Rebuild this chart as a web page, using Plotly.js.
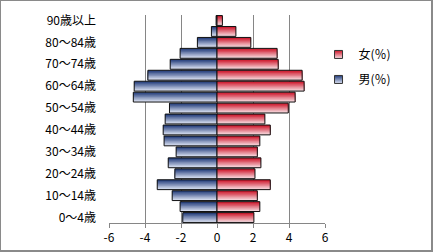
<!DOCTYPE html>
<html>
<head>
<meta charset="utf-8">
<script src="https://cdn.plot.ly/plotly-3.0.1.min.js"></script>
<style>
html,body{margin:0;padding:0;background:#fff;}
#wrap{position:relative;width:433px;height:252px;}
#chart{width:433px;height:252px;}
#frame{position:absolute;left:0;top:0;width:433px;height:252px;box-sizing:border-box;
  border-top:1px solid #8a8a8a;border-left:1px solid #8a8a8a;border-right:2px solid #8a8a8a;border-bottom:2px solid #8a8a8a;pointer-events:none;}
</style>
</head>
<body>
<div id="wrap"><div id="chart"></div><div id="frame"></div></div>
<script>
// Age groups (bottom to top)
const ageGroups = ["0～4歳","5～9歳","10～14歳","15～19歳","20～24歳","25～29歳","30～34歳","35～39歳","40～44歳","45～49歳","50～54歳","55～59歳","60～64歳","65～69歳","70～74歳","75～79歳","80～84歳","85～89歳","90歳以上"];
// Male share (%)
const malePct = [1.90,2.05,2.49,3.32,2.34,2.71,2.27,2.94,2.99,2.88,2.64,4.65,4.60,3.84,2.60,2.05,1.09,0.31,0.05];
// Female share (%)
const femalePct = [2.05,2.38,2.24,2.96,2.11,2.44,2.24,2.38,2.96,2.66,3.96,4.34,4.84,4.73,3.40,3.34,1.88,1.05,0.30];
// Y tick labels (every other group)
const yTickLabels = ["0～4歳","10～14歳","20～24歳","30～34歳","40～44歳","50～54歳","60～64歳","70～74歳","80～84歳","90歳以上"];
// X ticks
const xTickVals = [-6,-4,-2,0,2,4,6];
const xTickText = ["-6","-4","-2","0","2","4","6"];
const seriesNames = ["女(％)","男(％)"];

const maleX = malePct.map(v => -v);
const femaleX = femalePct;

function hex2rgb(h){return [parseInt(h.slice(1,3),16),parseInt(h.slice(3,5),16),parseInt(h.slice(5,7),16)];}
function mix(a,b,t){const A=hex2rgb(a),B=hex2rgb(b);return 'rgb('+A.map((v,i)=>Math.round(v+(B[i]-v)*t)).join(',')+')';}

const BW = 0.9, N = 14;
const maleTop = '#203a78', maleBot = '#dde3f4';
const femTop = '#cc1428', femBot = '#f8dde2';

const traces = [];
function addGradient(xv, top, bot){
  for(let k=0;k<N;k++){
    const t = k/(N-1);
    traces.push({type:'bar',orientation:'h',x:xv,y:ageGroups,
      offset:-BW/2,width:BW*(1-k/N),
      marker:{color:mix(top,bot,t),line:{width:0}},
      showlegend:false,hoverinfo:'skip'});
  }
  traces.push({type:'bar',orientation:'h',x:xv,y:ageGroups,offset:-BW/2,width:BW,
    marker:{color:'rgba(0,0,0,0)',line:{color:'#111',width:1}},showlegend:false,hoverinfo:'skip'});
}
addGradient(maleX, maleTop, maleBot);
addGradient(femaleX, femTop, femBot);

// legend entries
traces.push({type:'scatter',mode:'markers',x:[null],y:[null],name:seriesNames[0],legendgroup:'f',
  marker:{symbol:'square',size:8,color:femTop,gradient:{type:'vertical',color:femBot},line:{color:'#333',width:1}}});
traces.push({type:'scatter',mode:'markers',x:[null],y:[null],name:seriesNames[1],legendgroup:'m',
  marker:{symbol:'square',size:8,color:maleTop,gradient:{type:'vertical',color:maleBot},line:{color:'#333',width:1}}});

const layout = {
  width:433,height:252,
  margin:{l:109,r:108,t:15,b:29,pad:0},
  paper_bgcolor:'#fff',plot_bgcolor:'#fff',
  font:{family:'"Noto Sans CJK JP", sans-serif',size:12,color:'#000'},
  barmode:'overlay',
  hovermode:false,
  xaxis:{range:[-6,6],tickvals:xTickVals,ticktext:xTickText,showgrid:true,gridcolor:'#868686',gridwidth:1,
    zeroline:true,zerolinecolor:'#868686',zerolinewidth:1,showline:true,linecolor:'#868686',linewidth:1,
    ticks:'outside',ticklen:4,tickcolor:'#868686',tickfont:{size:12},fixedrange:true},
  yaxis:{type:'category',categoryorder:'array',categoryarray:ageGroups,range:[-0.5,18.5],
    tickvals:yTickLabels,ticktext:yTickLabels,showgrid:false,zeroline:false,showline:false,ticks:'',
    ticklabelstandoff:12,tickfont:{size:12},fixedrange:true},
  showlegend:true,
  legend:{x:0.97,xanchor:'left',y:0.88,yanchor:'top',traceorder:'grouped',tracegroupgap:6,
    font:{size:12},bgcolor:'rgba(0,0,0,0)',borderwidth:0}
};
Plotly.newPlot('chart',traces,layout,{staticPlot:true,displayModeBar:false});
</script>
</body>
</html>
